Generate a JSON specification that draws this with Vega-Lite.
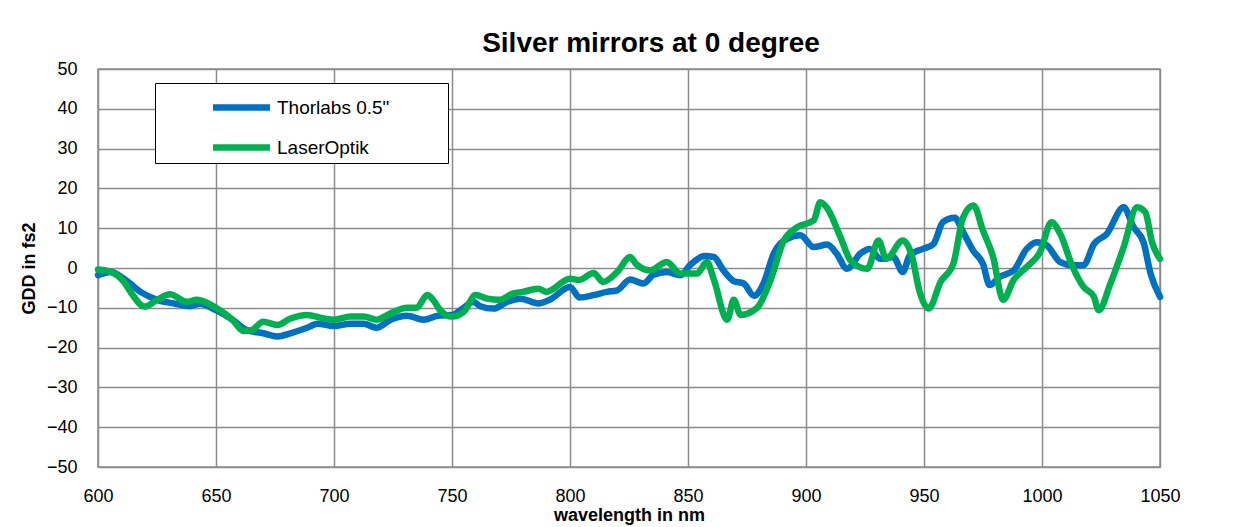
{
  "$schema": "https://vega.github.io/schema/vega-lite/v6.json",
  "autosize": {"type": "none"},
  "width": 1062,
  "height": 398,
  "padding": {"left": 98, "top": 69, "right": 86, "bottom": 60},
  "background": "white",
  "title": {"text": "Silver mirrors at 0 degree", "font": "Liberation Sans", "fontSize": 28, "fontWeight": "bold", "color": "#000", "anchor": "middle", "offset": 2, "dx": 22},
  "config": {
    "view": {"stroke": "#8c8c8c", "strokeWidth": 1.5},
    "axis": {"labelFont": "Liberation Sans", "labelFontSize": 18, "labelColor": "#000", "titleFont": "Liberation Sans", "titleFontSize": 18, "titleFontWeight": "bold", "titleColor": "#000", "gridColor": "#8c8c8c", "gridWidth": 1.5, "gridOpacity": 1, "domain": false, "ticks": false, "labelFlush": false}
  },
  "data": {"values": [
    {"s":"Thorlabs 0.5\"","wl":600,"g":-1.8},{"s":"Thorlabs 0.5\"","wl":605.5,"g":-1},{"s":"Thorlabs 0.5\"","wl":611,"g":-2.7},{"s":"Thorlabs 0.5\"","wl":618,"g":-6},{"s":"Thorlabs 0.5\"","wl":625,"g":-8},{"s":"Thorlabs 0.5\"","wl":632,"g":-8.9},{"s":"Thorlabs 0.5\"","wl":639,"g":-9.6},{"s":"Thorlabs 0.5\"","wl":643,"g":-9},{"s":"Thorlabs 0.5\"","wl":650,"g":-10.6},{"s":"Thorlabs 0.5\"","wl":657,"g":-13},{"s":"Thorlabs 0.5\"","wl":663,"g":-15.6},{"s":"Thorlabs 0.5\"","wl":670,"g":-16.4},{"s":"Thorlabs 0.5\"","wl":676,"g":-17.2},{"s":"Thorlabs 0.5\"","wl":681.5,"g":-16.4},{"s":"Thorlabs 0.5\"","wl":688.6,"g":-15},{"s":"Thorlabs 0.5\"","wl":693,"g":-14},{"s":"Thorlabs 0.5\"","wl":700,"g":-14.6},{"s":"Thorlabs 0.5\"","wl":707,"g":-14},{"s":"Thorlabs 0.5\"","wl":712.6,"g":-14},{"s":"Thorlabs 0.5\"","wl":718,"g":-15},{"s":"Thorlabs 0.5\"","wl":724,"g":-13},{"s":"Thorlabs 0.5\"","wl":731,"g":-12},{"s":"Thorlabs 0.5\"","wl":738,"g":-13},{"s":"Thorlabs 0.5\"","wl":744,"g":-12},{"s":"Thorlabs 0.5\"","wl":750,"g":-11.8},{"s":"Thorlabs 0.5\"","wl":755,"g":-10},{"s":"Thorlabs 0.5\"","wl":759,"g":-8.5},{"s":"Thorlabs 0.5\"","wl":762,"g":-9.6},{"s":"Thorlabs 0.5\"","wl":767.6,"g":-10.2},{"s":"Thorlabs 0.5\"","wl":773.3,"g":-8.5},{"s":"Thorlabs 0.5\"","wl":779,"g":-7.7},{"s":"Thorlabs 0.5\"","wl":786.6,"g":-8.9},{"s":"Thorlabs 0.5\"","wl":791.6,"g":-7.9},{"s":"Thorlabs 0.5\"","wl":800,"g":-4.75},{"s":"Thorlabs 0.5\"","wl":804,"g":-7.4},{"s":"Thorlabs 0.5\"","wl":810,"g":-6.8},{"s":"Thorlabs 0.5\"","wl":815.6,"g":-6},{"s":"Thorlabs 0.5\"","wl":820,"g":-5.6},{"s":"Thorlabs 0.5\"","wl":825.5,"g":-2.9},{"s":"Thorlabs 0.5\"","wl":831,"g":-3.9},{"s":"Thorlabs 0.5\"","wl":835.4,"g":-1.7},{"s":"Thorlabs 0.5\"","wl":841,"g":-1},{"s":"Thorlabs 0.5\"","wl":846.8,"g":-1.8},{"s":"Thorlabs 0.5\"","wl":851,"g":0.8},{"s":"Thorlabs 0.5\"","wl":857,"g":3},{"s":"Thorlabs 0.5\"","wl":861,"g":2.75},{"s":"Thorlabs 0.5\"","wl":865,"g":-0.6},{"s":"Thorlabs 0.5\"","wl":869.4,"g":-3.3},{"s":"Thorlabs 0.5\"","wl":873.6,"g":-3.9},{"s":"Thorlabs 0.5\"","wl":878,"g":-7},{"s":"Thorlabs 0.5\"","wl":882,"g":-3.9},{"s":"Thorlabs 0.5\"","wl":886.3,"g":3.6},{"s":"Thorlabs 0.5\"","wl":892,"g":7.3},{"s":"Thorlabs 0.5\"","wl":897.6,"g":8.2},{"s":"Thorlabs 0.5\"","wl":903.3,"g":5.25},{"s":"Thorlabs 0.5\"","wl":909,"g":5.9},{"s":"Thorlabs 0.5\"","wl":913,"g":3.6},{"s":"Thorlabs 0.5\"","wl":917.4,"g":-0.2},{"s":"Thorlabs 0.5\"","wl":923,"g":3.6},{"s":"Thorlabs 0.5\"","wl":927,"g":4.8},{"s":"Thorlabs 0.5\"","wl":931.5,"g":2.3},{"s":"Thorlabs 0.5\"","wl":937,"g":2.75},{"s":"Thorlabs 0.5\"","wl":941,"g":-1},{"s":"Thorlabs 0.5\"","wl":944,"g":3.2},{"s":"Thorlabs 0.5\"","wl":949.5,"g":4.8},{"s":"Thorlabs 0.5\"","wl":954,"g":6},{"s":"Thorlabs 0.5\"","wl":958,"g":11.5},{"s":"Thorlabs 0.5\"","wl":963,"g":12.6},{"s":"Thorlabs 0.5\"","wl":966.6,"g":9},{"s":"Thorlabs 0.5\"","wl":970.8,"g":4.4},{"s":"Thorlabs 0.5\"","wl":975,"g":1},{"s":"Thorlabs 0.5\"","wl":977.8,"g":-4.3},{"s":"Thorlabs 0.5\"","wl":982,"g":-2.25},{"s":"Thorlabs 0.5\"","wl":988,"g":-0.6},{"s":"Thorlabs 0.5\"","wl":993.5,"g":4.8},{"s":"Thorlabs 0.5\"","wl":997.8,"g":6.5},{"s":"Thorlabs 0.5\"","wl":1002,"g":5.7},{"s":"Thorlabs 0.5\"","wl":1007.7,"g":1.5},{"s":"Thorlabs 0.5\"","wl":1013,"g":0.7},{"s":"Thorlabs 0.5\"","wl":1017.6,"g":0.7},{"s":"Thorlabs 0.5\"","wl":1022,"g":6},{"s":"Thorlabs 0.5\"","wl":1027.5,"g":8.6},{"s":"Thorlabs 0.5\"","wl":1034.6,"g":15.25},{"s":"Thorlabs 0.5\"","wl":1038.8,"g":10.25},{"s":"Thorlabs 0.5\"","wl":1043,"g":6.5},{"s":"Thorlabs 0.5\"","wl":1046,"g":-1.4},{"s":"Thorlabs 0.5\"","wl":1050,"g":-7.25},
    {"s":"LaserOptik","wl":600,"g":-0.4},{"s":"LaserOptik","wl":605.5,"g":-1},{"s":"LaserOptik","wl":611,"g":-3.5},{"s":"LaserOptik","wl":614.7,"g":-6.8},{"s":"LaserOptik","wl":619.7,"g":-9.7},{"s":"LaserOptik","wl":625,"g":-8},{"s":"LaserOptik","wl":630.5,"g":-6.6},{"s":"LaserOptik","wl":637.6,"g":-8.5},{"s":"LaserOptik","wl":642,"g":-8},{"s":"LaserOptik","wl":650,"g":-10},{"s":"LaserOptik","wl":657,"g":-13},{"s":"LaserOptik","wl":661.6,"g":-15.8},{"s":"LaserOptik","wl":665,"g":-15.6},{"s":"LaserOptik","wl":670,"g":-13.5},{"s":"LaserOptik","wl":676,"g":-14.3},{"s":"LaserOptik","wl":681.5,"g":-12.7},{"s":"LaserOptik","wl":688.6,"g":-11.8},{"s":"LaserOptik","wl":695.8,"g":-12.7},{"s":"LaserOptik","wl":700,"g":-13},{"s":"LaserOptik","wl":707,"g":-12.2},{"s":"LaserOptik","wl":712.6,"g":-12.2},{"s":"LaserOptik","wl":718,"g":-13},{"s":"LaserOptik","wl":724,"g":-11.4},{"s":"LaserOptik","wl":731,"g":-10},{"s":"LaserOptik","wl":735,"g":-10},{"s":"LaserOptik","wl":739.5,"g":-6.8},{"s":"LaserOptik","wl":742,"g":-8},{"s":"LaserOptik","wl":745,"g":-10.6},{"s":"LaserOptik","wl":750,"g":-12.2},{"s":"LaserOptik","wl":755,"g":-11},{"s":"LaserOptik","wl":760,"g":-6.8},{"s":"LaserOptik","wl":765,"g":-7.7},{"s":"LaserOptik","wl":770,"g":-8},{"s":"LaserOptik","wl":776,"g":-6.4},{"s":"LaserOptik","wl":780,"g":-6},{"s":"LaserOptik","wl":786.6,"g":-5.2},{"s":"LaserOptik","wl":790,"g":-6},{"s":"LaserOptik","wl":800,"g":-2.7},{"s":"LaserOptik","wl":804,"g":-3},{"s":"LaserOptik","wl":810,"g":-1.25},{"s":"LaserOptik","wl":814,"g":-3.5},{"s":"LaserOptik","wl":820,"g":-1},{"s":"LaserOptik","wl":825.5,"g":2.75},{"s":"LaserOptik","wl":828,"g":1},{"s":"LaserOptik","wl":834,"g":-0.6},{"s":"LaserOptik","wl":841,"g":1.5},{"s":"LaserOptik","wl":846.8,"g":-1.4},{"s":"LaserOptik","wl":853.8,"g":-1.4},{"s":"LaserOptik","wl":858,"g":1.5},{"s":"LaserOptik","wl":861,"g":-3},{"s":"LaserOptik","wl":866.6,"g":-13},{"s":"LaserOptik","wl":869.4,"g":-8},{"s":"LaserOptik","wl":872.3,"g":-11.8},{"s":"LaserOptik","wl":879.3,"g":-10},{"s":"LaserOptik","wl":885,"g":-3},{"s":"LaserOptik","wl":890.6,"g":6.9},{"s":"LaserOptik","wl":896.3,"g":10.25},{"s":"LaserOptik","wl":903.3,"g":12},{"s":"LaserOptik","wl":906,"g":16.5},{"s":"LaserOptik","wl":909,"g":15},{"s":"LaserOptik","wl":914.6,"g":7.75},{"s":"LaserOptik","wl":918.9,"g":1.9},{"s":"LaserOptik","wl":926,"g":-0.2},{"s":"LaserOptik","wl":930.7,"g":6.9},{"s":"LaserOptik","wl":934,"g":2.3},{"s":"LaserOptik","wl":941,"g":6.9},{"s":"LaserOptik","wl":945,"g":2.75},{"s":"LaserOptik","wl":948,"g":-5.6},{"s":"LaserOptik","wl":952,"g":-10.2},{"s":"LaserOptik","wl":957,"g":-3.5},{"s":"LaserOptik","wl":962.4,"g":1},{"s":"LaserOptik","wl":966.6,"g":12.75},{"s":"LaserOptik","wl":971,"g":15.7},{"s":"LaserOptik","wl":975,"g":9.4},{"s":"LaserOptik","wl":979.3,"g":2.75},{"s":"LaserOptik","wl":983.5,"g":-8},{"s":"LaserOptik","wl":988,"g":-3},{"s":"LaserOptik","wl":993.5,"g":0.25},{"s":"LaserOptik","wl":999.2,"g":4},{"s":"LaserOptik","wl":1004,"g":11.5},{"s":"LaserOptik","wl":1007.7,"g":8.6},{"s":"LaserOptik","wl":1013,"g":0.25},{"s":"LaserOptik","wl":1017.6,"g":-4.75},{"s":"LaserOptik","wl":1022,"g":-7.25},{"s":"LaserOptik","wl":1024,"g":-10.6},{"s":"LaserOptik","wl":1029,"g":-3.9},{"s":"LaserOptik","wl":1034.6,"g":5.25},{"s":"LaserOptik","wl":1040.3,"g":15.25},{"s":"LaserOptik","wl":1043.8,"g":14},{"s":"LaserOptik","wl":1046.6,"g":6.5},{"s":"LaserOptik","wl":1050,"g":2.3}
  ]},
  "mark": {"type": "line", "strokeWidth": 6.5, "strokeCap": "round", "strokeJoin": "round", "interpolate": "monotone"},
  "encoding": {
    "x": {"field": "wl", "type": "quantitative", "scale": {"domain": [600, 1050], "nice": false}, "axis": {"values": [600,650,700,750,800,850,900,950,1000,1050], "format": "d", "title": "wavelength in nm", "labelPadding": 20, "titlePadding": 1}},
    "y": {"field": "g", "type": "quantitative", "scale": {"domain": [-50, 50], "nice": false}, "axis": {"values": [-50,-40,-30,-20,-10,0,10,20,30,40,50], "format": "d", "title": "GDD in fs2", "labelPadding": 21, "titlePadding": 8}},
    "color": {"field": "s", "type": "nominal", "sort": null, "scale": {"domain": ["Thorlabs 0.5\"", "LaserOptik"], "range": ["#0070C0", "#00B050"]},
      "legend": {"title": null, "orient": "none", "legendX": 57, "legendY": 14, "fillColor": "white", "strokeColor": "#000", "padding": 2, "symbolType": "M-1.5,0H1.5", "symbolSize": 1444, "symbolStrokeWidth": 6.5, "symbolOffset": 62, "labelOffset": 13, "labelFont": "Liberation Sans", "labelFontSize": 19, "labelColor": "#000", "labelLimit": 400, "rowPadding": 4, "labelExpr": "datum.label + '\u2800\u2800\u2800\u2800'"}}
  }
}
